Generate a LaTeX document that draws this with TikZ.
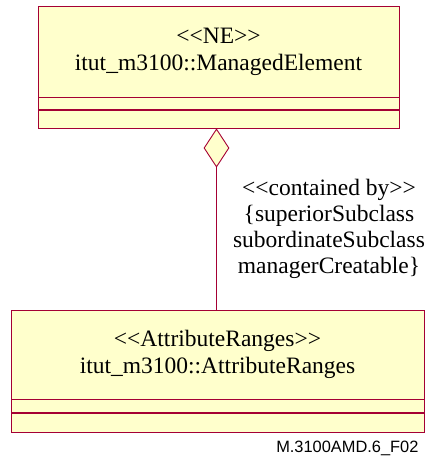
\documentclass[tikz,border=0pt]{standalone}
\usepackage{fontspec}
\newfontfamily\umlfont{Liberation Serif}
\newfontfamily\captionfont{Liberation Sans}
\usetikzlibrary{shapes.geometric, positioning}
\definecolor{umlred}{RGB}{165,0,52}
\definecolor{umlfill}{RGB}{255,255,204}

\begin{document}
\begin{tikzpicture}[x=1pt, y=-1pt,
  classbox/.style={rectangle, draw=umlred, fill=umlfill, line width=0.9pt, align=center, inner sep=0pt, font=\umlfont\fontsize{23.5}{27}\selectfont},
  compart/.style={rectangle, draw=umlred, fill=umlfill, line width=0.9pt, inner sep=0pt},
  aggr/.style={diamond, draw=umlred, fill=umlfill, line width=0.9pt, inner sep=0pt, minimum width=25pt, minimum height=38pt},
  link/.style={draw=umlred, line width=0.9pt}]

\useasboundingbox (0,0) rectangle (427,459);

\node[classbox, minimum width=361pt, minimum height=91pt] (ne) at (218.5,51.5) {<{}<NE>{}>\\ itut\_m3100::ManagedElement};
\node[compart, minimum width=361pt, minimum height=12pt, below=0pt of ne] (neattr) {};
\node[compart, minimum width=361pt, minimum height=18pt, below=0pt of neattr] (neops) {};

\node[classbox, minimum width=413pt, minimum height=89pt] (ar) at (217.5,354.5) {<{}<AttributeRanges>{}>\\ itut\_m3100::AttributeRanges};
\node[compart, minimum width=413pt, minimum height=13pt, below=0pt of ar] (arattr) {};
\node[compart, minimum width=413pt, minimum height=19pt, below=0pt of arattr] (arops) {};

\node[aggr] (hold) at (216.5,148) {};
\draw[link] (hold.south) -- (hold.south |- ar.north);

\node[align=center, font=\umlfont\fontsize{23.5}{26}\selectfont] (role) at (329,229) {<{}<contained by>{}>\\ \{superiorSubclass\\ subordinateSubclass\\ managerCreatable\}};

\node[anchor=east, font=\captionfont\fontsize{16.4}{18}\selectfont] (tag) at (422,448.5) {M.3100AMD.6\_F02};

\end{tikzpicture}
\end{document}
